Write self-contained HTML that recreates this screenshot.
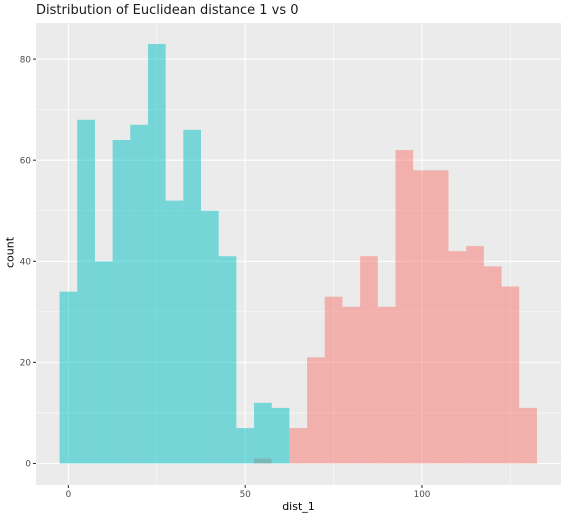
<!DOCTYPE html>
<html>
<head>
<meta charset="utf-8">
<style>
html,body{margin:0;padding:0;background:#fff;width:566px;height:518px;overflow:hidden}
svg{display:block}
text{font-family:"DejaVu Sans","Liberation Sans",sans-serif}
</style>
</head>
<body>
<svg id="chart" width="566" height="518" viewBox="0 0 566 518" xmlns="http://www.w3.org/2000/svg">
<rect x="36" y="23" width="525" height="462" fill="#EBEBEB"/>
<text x="36" y="14" font-size="13" fill="#1a1a1a">Distribution of Euclidean distance 1 vs 0</text>
<text x="298.5" y="510" font-size="11" fill="#000" text-anchor="middle">dist_1</text>
<text x="13.5" y="252.5" font-size="11" fill="#000" text-anchor="middle" transform="rotate(-90 13.5 252.5)">count</text>
</svg>
<script>
const binCenters = [0,5,10,15,20,25,30,35,40,45,50,55,60,65,70,75,80,85,90,95,100,105,110,115,120,125,130];
const countsClass0 = [0,0,0,0,0,0,0,0,0,0,0,1,0,7,21,33,31,41,31,62,58,58,42,43,39,35,11];
const countsClass1 = [34,68,40,64,67,83,52,66,50,41,7,12,11,0,0,0,0,0,0,0,0,0,0,0,0,0,0];
const xTicks = [0,50,100];
const yTicks = [0,20,40,60,80];
const xMinor = [25,75,125];
const yMinor = [10,30,50,70];
const binWidth = 5;

const svg = document.getElementById('chart');
const NS = 'http://www.w3.org/2000/svg';
const panel = {left:36, right:561, top:23, bottom:485};
function xScale(v){ return 68.4 + v * 3.536; }
function yScale(v){ return 463.5 - v * 5.055; }

function make(tag, attrs){
  const el = document.createElementNS(NS, tag);
  for (const k in attrs) el.setAttribute(k, attrs[k]);
  svg.appendChild(el);
  return el;
}

xMinor.forEach(function(t){
  const el = make('line',{x1:xScale(t),x2:xScale(t),y1:panel.top,y2:panel.bottom,stroke:'#fff','stroke-width':0.55});
  
  
});
yMinor.forEach(function(t){
  const el = make('line',{x1:panel.left,x2:panel.right,y1:yScale(t),y2:yScale(t),stroke:'#fff','stroke-width':0.55});
  
  
});
xTicks.forEach(function(t){
  const grid = make('line',{x1:xScale(t),x2:xScale(t),y1:panel.top,y2:panel.bottom,stroke:'#fff','stroke-width':1.07});
  
  
  const tick = make('line',{x1:xScale(t),x2:xScale(t),y1:panel.bottom,y2:panel.bottom+3,stroke:'#333','stroke-width':1.07});
  
  
  const label = make('text',{x:xScale(t),y:497,'font-size':8.8,fill:'#4D4D4D','text-anchor':'middle'});
  label.textContent = t;
  
  
});
yTicks.forEach(function(t){
  const grid = make('line',{x1:panel.left,x2:panel.right,y1:yScale(t),y2:yScale(t),stroke:'#fff','stroke-width':1.07});
  
  
  const tick = make('line',{x1:panel.left-3,x2:panel.left,y1:yScale(t),y2:yScale(t),stroke:'#333','stroke-width':1.07});
  
  
  const label = make('text',{x:panel.left-5,y:yScale(t)+3.2,'font-size':8.8,fill:'#4D4D4D','text-anchor':'end'});
  label.textContent = t;
  
  
});

function drawSeries(values, color, name){
  values.forEach(function(v, i){
    if (!v) return;
    const c = binCenters[i];
    const x0 = xScale(c - binWidth / 2), x1 = xScale(c + binWidth / 2);
    const bar = make('rect',{x:x0,y:yScale(v),width:x1-x0,height:yScale(0)-yScale(v),fill:color,'fill-opacity':0.5});
    
    
  });
}
drawSeries(countsClass0, '#F8766D', 'bar-class-0');
drawSeries(countsClass1, '#00BFC4', 'bar-class-1');
</script>
</body>
</html>
